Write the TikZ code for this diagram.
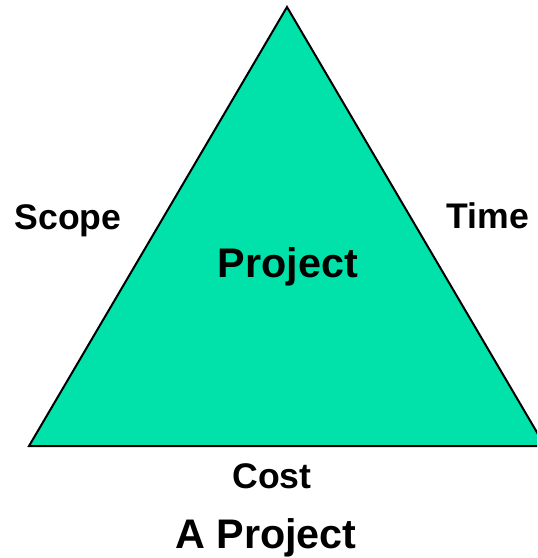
\documentclass[tikz,border=0pt]{standalone}
\usepackage{fontspec}
\setmainfont{Liberation Sans}
\definecolor{tri}{RGB}{0,226,170}
\tikzset{lbl/.style={font=\bfseries\fontsize{26.7}{30}\selectfont,anchor=base,inner sep=0pt},
	big/.style={lbl,font=\bfseries\fontsize{31}{34}\selectfont}}
\begin{document}
\begin{tikzpicture}[x=0.75pt,y=-0.75pt,line join=miter]
		\useasboundingbox (0,0) rectangle (537,558);
		\clip (0,0) rectangle (537,558);
		\coordinate (top) at (287,7);
		\coordinate (bl) at (29,446);
		\coordinate (br) at (545,446);
		\draw[fill=tri,line width=1.5pt] (top)--(bl)--(br)--cycle;
		\node[big] (project) at (288,277) {Project};
		\node[lbl] (scope) at (68,229) {Scope};
		\node[lbl] (time) at (488,228) {Time};
		\node[lbl] (cost) at (272,488) {Cost};
		\node[big] (title) at (266,548) {A Project};
\end{tikzpicture}
\end{document}
